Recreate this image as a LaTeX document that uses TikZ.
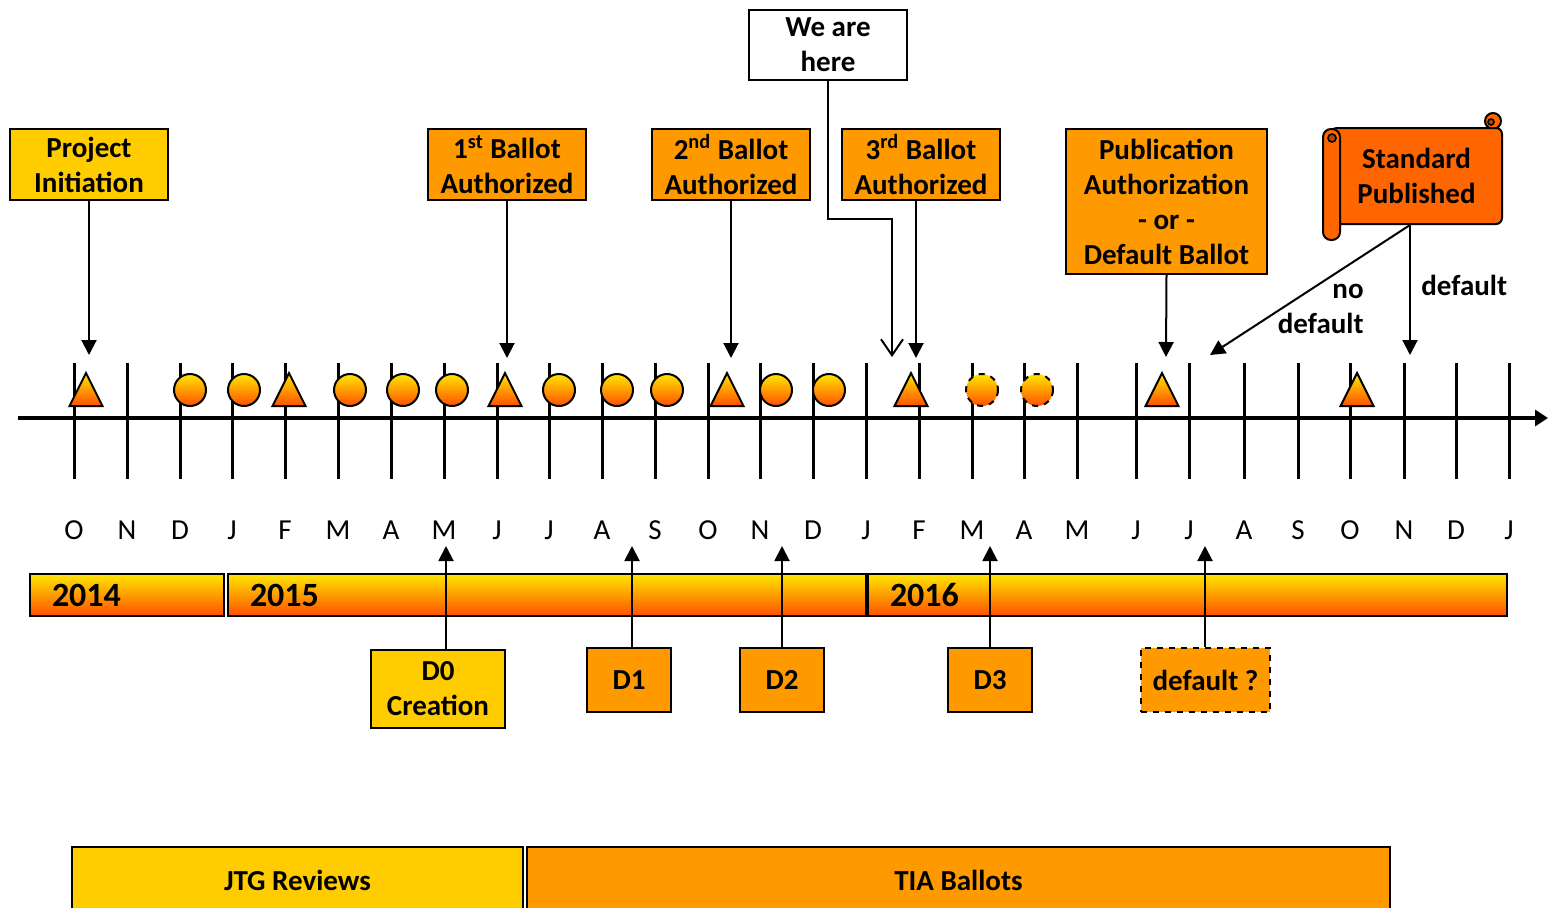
\documentclass[tikz,border=0pt]{standalone}
\usepackage{fontspec}
\setmainfont{Carlito}
\usetikzlibrary{arrows.meta}
\definecolor{gold}{HTML}{FFCC00}
\definecolor{amber}{HTML}{FF9900}
\definecolor{flame}{HTML}{FF6600}
\definecolor{sun}{HTML}{FFE600}
\definecolor{ember}{HTML}{FF4F00}

\begin{document}
\begin{tikzpicture}[x=0.5pt,y=-0.5pt,
 every node/.style={font=\fontsize{14.5}{17.5}\selectfont\bfseries,inner sep=0pt},
 box/.style={draw,line width=1pt,align=center,minimum width=79pt,minimum height=35.5pt},
 mini/.style={draw,line width=1pt,fill=amber,minimum width=42pt,minimum height=32pt},
 year/.style={draw,line width=1pt,top color=sun,bottom color=ember,minimum height=21pt,inner xsep=11pt,align=left,font=\fontsize{17}{20}\selectfont\bfseries},
 phase/.style={draw,line width=1.2pt,minimum height=33pt},
 sym/.style={draw,line width=1pt,top color=sun,bottom color=ember},
 tick/.style={line width=1.5pt},
 month/.style={font=\fontsize{14.5}{17.5}\selectfont},
 lnk/.style={line width=1pt,-{Triangle[length=7.5pt,width=7.5pt]}}]
\useasboundingbox (0,0) rectangle (1548,907);

% time axis
\coordinate (a0) at (18,418); \coordinate (a1) at (1548,418);
\draw[line width=2.2pt,-{Triangle[length=6.5pt,width=8pt]}] (a0) -- (a1);
\foreach \x/\m [count=\i] in {74/O,127/N,180/D,232/J,285/F,338/M,391/A,444/M,497/J,549/J,602/A,655/S,708/O,760/N,
  813/D,866/J,919/F,972/M,1024/A,1077/M,1136/J,1189/J,1244/A,1298/S,1350/O,1404/N,1456/D,1509/J}{
  \draw[tick] (\x,363) -- (\x,479);
  \node[month] (m\i) at (\x,530) {\m};
}

% meetings and ballots
\foreach \x in {86,289,505,727,911,1162,1357}
  \path[sym] (\x-16.5,406) -- (\x,373) -- (\x+16.5,406) -- cycle;
\foreach \x in {190,244,350,403,452,559,617,667,776,829}
  \path[sym] (\x,390) circle[radius=16];
\foreach \x in {982,1037}
  \path[sym,dashed] (\x,390) circle[radius=16];

% milestones
\node[box,fill=gold] (pi) at (89,164.5) {Project\\Initiation};
\node[box,fill=amber] (b1) at (507,164.5) {1\textsuperscript{st} Ballot\\Authorized};
\node[box,fill=amber] (b2) at (731,164.5) {2\textsuperscript{nd} Ballot\\Authorized};
\node[box,fill=amber] (b3) at (921,164.5) {3\textsuperscript{rd} Ballot\\Authorized};
\node[box,fill=white,minimum height=35pt] (here) at (828,45) {We are\\here};
\node[box,fill=amber,minimum width=100.5pt,minimum height=72.5pt] (pa) at (1166.5,201.5) {Publication\\Authorization\\- or -\\Default Ballot};

% scroll
\draw[line width=1pt,fill=flame] (1493,121) circle[radius=8];
\node[draw,line width=1pt,fill=flame,rounded corners=3pt,minimum width=85.5pt,minimum height=48pt,align=center] (sp) at (1416.5,176) {Standard\\Published};
\draw[line width=0.8pt,fill=flame!70!black] (1491,122) circle[radius=3];
\draw[line width=1pt,fill=flame,rounded corners=4pt] (1323,129) rectangle (1340,240);
\draw[line width=0.8pt,fill=flame!70!black] (1332,138) circle[radius=4];

\coordinate (tpi) at (89,355);
\coordinate (t1) at (507,358);
\coordinate (t2) at (731,358);
\coordinate (t3) at (916,358);
\coordinate (hb) at (892,219); \coordinate (th) at (892,357);
\coordinate (tpa) at (1166,357);
\coordinate (tnd) at (1210,355); \coordinate (tdf) at (1410,355);
\draw[lnk] (pi.south) -- (tpi);
\draw[lnk] (b1.south) -- (t1);
\draw[lnk] (b2.south) -- (t2);
\draw[lnk] (b3.south -| t3) -- (t3);
\draw[line width=1pt,-{Straight Barb[length=8pt,width=11pt]}] (here.south) |- (hb) -- (th);
\draw[lnk] (pa.south) -- (tpa);
\draw[lnk] (sp.south -| tdf) -- (tnd);
\draw[lnk] (sp.south -| tdf) -- (tdf);
\node[anchor=east,align=right] (nd) at (1364,309) {no\\default};
\node[anchor=west] (df) at (1421,285) {default};

% years
\node[year,text width=75pt] (y14) at (127,595) {2014};
\node[year,text width=297pt] (y15) at (547,595) {2015};
\node[year,text width=297.5pt] (y16) at (1187.5,595) {2016};

% drafts
\node[box,fill=gold,minimum width=67pt,minimum height=39pt] (d0) at (438,689) {D0\\Creation};
\node[mini] (d1) at (629,680) {D1};
\node[mini] (d2) at (782,680) {D2};
\node[mini] (d3) at (990,680) {D3};
\node[mini,dashed,minimum width=64.5pt] (dq) at (1205.5,680) {default ?};
\coordinate (u0) at (446,546);
\coordinate (u1) at (632,546);
\coordinate (u2) at (782,546);
\coordinate (u3) at (990,546);
\coordinate (uq) at (1205,546);
\draw[lnk] (d0.north -| u0) -- (u0);
\draw[lnk] (d1.north -| u1) -- (u1);
\draw[lnk] (d2.north -| u2) -- (u2);
\draw[lnk] (d3.north -| u3) -- (u3);
\draw[lnk] (dq.north -| uq) -- (uq);

% phases
\node[phase,fill=gold,minimum width=225.5pt] (jtg) at (297.5,880) {JTG Reviews};
\node[phase,fill=amber,minimum width=431.5pt] (tia) at (958.5,880) {TIA Ballots};
\end{tikzpicture}
\end{document}
